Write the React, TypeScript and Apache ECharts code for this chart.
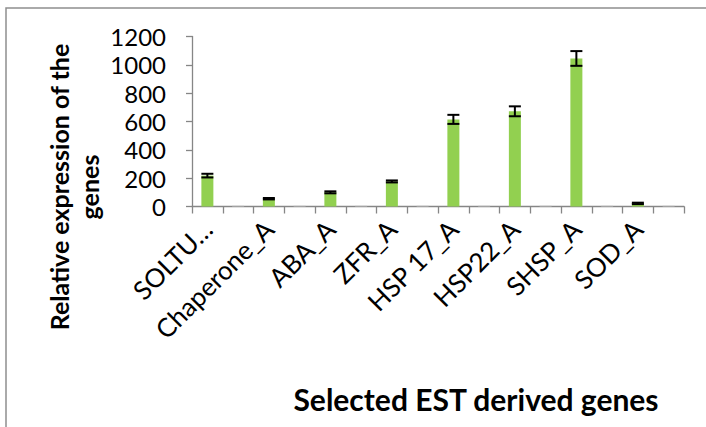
import React, { useEffect, useRef } from "react";
import * as echarts from "echarts";

const categories = [
  "SOLTU…", "", "Chaperone_A", "", "ABA_A", "", "ZFR_A", "",
  "HSP 17_A", "", "HSP22_A", "", "SHSP_A", "", "SOD_A", "",
];
const greenValues = [218, 55, 100, 177, 615, 672, 1045, 22];
const greyValues = [5, 5, 5, 5, 5, 5, 5, 5];
const errors = [13, 5, 7, 7, 32, 35, 52, 5];
const yTicks = { min: 0, max: 1200, interval: 200 };

const GREEN = "#92D050";
const GREY = "#BFBFBF";
const AXIS = "#868686";
const FONT = "Lato, 'Open Sans', sans-serif";

export default function App() {
  const ref = useRef<HTMLDivElement>(null);

  useEffect(() => {
    if (!ref.current) return;
    const chart = echarts.init(ref.current, null, { renderer: "svg" });

    const barData = categories.map((_, i) =>
      i % 2 === 0
        ? { value: greenValues[i / 2], itemStyle: { color: GREEN } }
        : { value: greyValues[(i - 1) / 2], itemStyle: { color: GREY } }
    );
    const errData = greenValues.map((v, k) => [2 * k, v - errors[k], v + errors[k]]);

    chart.setOption({
      animation: false,
      backgroundColor: "#ffffff",
      grid: { left: 192, right: 22, top: 36.5, bottom: 220.5 },
      xAxis: {
        type: "category",
        data: categories,
        boundaryGap: true,
        axisLine: { lineStyle: { color: AXIS, width: 1.3 } },
        axisTick: { show: true, interval: 0, length: 7, lineStyle: { color: AXIS, width: 1.3 } },
        axisLabel: {
          interval: 1,
          rotate: 45,
          margin: 18,
          color: "#000",
          fontFamily: FONT,
          fontSize: 26,
        },
      },
      yAxis: {
        type: "value",
        min: yTicks.min,
        max: yTicks.max,
        interval: yTicks.interval,
        splitLine: { show: false },
        axisLine: { show: true, lineStyle: { color: AXIS, width: 1.3 } },
        axisTick: { show: true, length: 6, lineStyle: { color: AXIS, width: 1.3 } },
        axisLabel: {
          margin: 26,
          color: "#000",
          fontFamily: FONT,
          fontSize: 24,
          formatter: (v: number) => String(v),
        },
      },
      graphic: [
        {
          type: "rect",
          shape: { x: 6, y: 8, width: 760, height: 460 },
          style: { fill: "none", stroke: "#8e8e8e", lineWidth: 1.5 },
          silent: true,
        },
        {
          type: "text",
          x: 74,
          y: 187,
          rotation: Math.PI / 2,
          style: {
            text: "Relative expression of the\ngenes",
            fontFamily: FONT,
            fontWeight: "bold",
            fontSize: 25,
            lineHeight: 30,
            fill: "#000",
            align: "center",
            verticalAlign: "middle",
          },
        },
        {
          type: "text",
          x: 476,
          y: 399,
          style: {
            text: "Selected EST derived genes",
            fontFamily: FONT,
            fontWeight: "bold",
            fontSize: 30,
            fill: "#000",
            align: "center",
            verticalAlign: "middle",
          },
        },
      ],
      series: [
        {
          type: "bar",
          data: barData,
          barWidth: 12,
        },
        {
          type: "custom",
          data: errData,
          encode: { x: 0, y: [1, 2] },
          z: 10,
          renderItem: (params: any, api: any) => {
            const x = api.value(0);
            const lo = api.coord([x, api.value(1)]);
            const hi = api.coord([x, api.value(2)]);
            const hw = 6;
            const st = { stroke: "#000", lineWidth: 2 };
            return {
              type: "group",
              children: [
                { type: "line", shape: { x1: lo[0], y1: lo[1], x2: hi[0], y2: hi[1] }, style: st },
                { type: "line", shape: { x1: lo[0] - hw, y1: lo[1], x2: lo[0] + hw, y2: lo[1] }, style: st },
                { type: "line", shape: { x1: hi[0] - hw, y1: hi[1], x2: hi[0] + hw, y2: hi[1] }, style: st },
              ],
            };
          },
        },
      ],
    });

    return () => chart.dispose();
  }, []);

  return (
    <div
      ref={ref}
      style={{ position: "fixed", left: 0, top: 0, width: 706, height: 427 }}
    />
  );
}
